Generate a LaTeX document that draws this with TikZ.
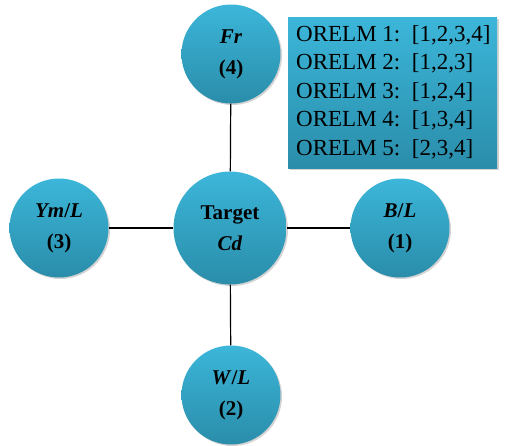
\documentclass[tikz,border=0pt]{standalone}
\usepackage{fontspec}
\setmainfont{Liberation Serif}
\usetikzlibrary{shadows}
\definecolor{ctop}{HTML}{3CB6D9}
\definecolor{cbot}{HTML}{2A8DAA}
\tikzset{
  ball/.style={circle, minimum size=#1, inner sep=0pt, top color=ctop, bottom color=cbot,
    drop shadow={shadow xshift=1.5pt, shadow yshift=-1.5pt, opacity=0.35},
    align=center, font=\fontsize{21}{31}\selectfont\bfseries},
  ball/.default=99pt,
  link/.style={line width=1.2pt, black},
  listbox/.style={rectangle, top color=ctop, bottom color=cbot, minimum width=209pt, minimum height=151pt,
    inner sep=0pt, drop shadow={shadow xshift=1.5pt, shadow yshift=-1.5pt, opacity=0.35}},
  listtext/.style={anchor=north west, align=left, inner sep=0pt, font=\fontsize{23}{28.5}\selectfont}
}
\begin{document}
\begin{tikzpicture}[x=1pt,y=-1pt]
\useasboundingbox (0,0) rectangle (505,445);
\node[ball=113pt] (c) at (230,228) {Target\\\textit{Cd}};
\node[ball] (t) at (231,54) {\textit{Fr}\\(4)};
\node[ball] (l) at (59,228) {\textit{Ym}/\textit{L}\\(3)};
\node[ball] (r) at (400,228) {\textit{B}/\textit{L}\\(1)};
\node[ball] (b) at (231,395) {\textit{W}/\textit{L}\\(2)};
\draw[link] (c) -- (t);
\draw[link] (c) -- (l);
\draw[link] (c) -- (r);
\draw[link] (c) -- (b);
\node[listbox] (box) at (392.5,93) {};
\node[listtext] (txt) at (296,25)
  {ORELM 1:\ \ [1,2,3,4]\\ORELM 2:\ \ [1,2,3]\\ORELM 3:\ \ [1,2,4]\\ORELM 4:\ \ [1,3,4]\\ORELM 5:\ \ [2,3,4]};
\end{tikzpicture}
\end{document}
